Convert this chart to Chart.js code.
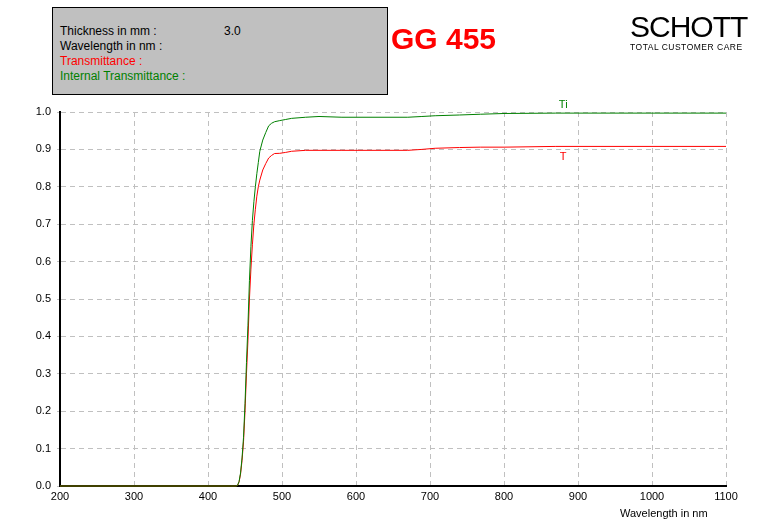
<!DOCTYPE html>
<html>
<head>
<meta charset="utf-8">
<script src="https://cdn.jsdelivr.net/npm/chart.js@4.4.1/dist/chart.umd.min.js"></script>
<style>
    body { margin: 0; background: #fff; }
    #wrap { position: relative; width: 774px; height: 525px; overflow: hidden; font-family: "Liberation Sans", Arial, sans-serif; }
    #chart { position: absolute; left: 0; top: 0; }
    #info { position: absolute; left: 52px; top: 7px; width: 334px; height: 86px; background: #c0c0c0; border: 1px solid #000; font-size: 12px; }
    #info .row { position: absolute; left: 7px; line-height: 15px; white-space: nowrap; }
    #title { position: absolute; left: 391px; top: 21px; color: #f00; font-weight: bold; font-size: 30px; line-height: 36px; }
    #logo { position: absolute; left: 630px; top: 10px; color: #000; font-size: 30px; line-height: 34px; letter-spacing: -1px; }
    #tagline { position: absolute; left: 630px; top: 42px; font-size: 8.5px; line-height: 10px; letter-spacing: 0.5px; }
    #xtitle { position: absolute; left: 620px; top: 506px; font-size: 11px; line-height: 14px; }
</style>
</head>
<body>
<div id="wrap">
    <canvas id="chart" width="774" height="525"></canvas>
    <div id="info">
        <div class="row" style="top:16px">Thickness in mm :</div>
        <div class="row" style="top:16px; left:171px">3.0</div>
        <div class="row" style="top:31px">Wavelength in nm :</div>
        <div class="row" style="top:46px; color:#f00">Transmittance :</div>
        <div class="row" style="top:61px; color:#008000">Internal Transmittance :</div>
    </div>
    <div id="title">GG 455</div>
    <div id="logo">SCHOTT</div>
    <div id="tagline">TOTAL CUSTOMER CARE</div>
    <div id="xtitle">Wavelength in nm</div>
</div>
<script>
const wavelengths = [200, 300, 400, 430, 438, 440, 442, 444, 446, 448, 450, 452, 454, 456, 458, 460, 462, 464, 466, 468, 470, 474, 478, 482, 486, 490, 497, 505, 513, 532, 550, 581, 670, 689, 707, 740, 768, 800, 870, 950, 1100];
const internalTransmittance = [0, 0, 0, 0, 0, 0.002, 0.012, 0.035, 0.075, 0.13, 0.22, 0.33, 0.43, 0.55, 0.64, 0.71, 0.76, 0.80, 0.835, 0.865, 0.895, 0.925, 0.945, 0.963, 0.97, 0.974, 0.977, 0.98, 0.983, 0.986, 0.988, 0.986, 0.986, 0.988, 0.99, 0.992, 0.994, 0.996, 0.997, 0.997, 0.997];
const transmittance = [0, 0, 0, 0, 0, 0.002, 0.011, 0.032, 0.068, 0.118, 0.2, 0.3, 0.39, 0.5, 0.58, 0.645, 0.7, 0.74, 0.775, 0.8, 0.818, 0.845, 0.862, 0.877, 0.884, 0.889, 0.8895, 0.892, 0.895, 0.8975, 0.8975, 0.8975, 0.8975, 0.9, 0.903, 0.905, 0.906, 0.906, 0.908, 0.908, 0.908];
const xTicks = [200, 300, 400, 500, 600, 700, 800, 900, 1000, 1100];
const yTicks = [0, 0.1, 0.2, 0.3, 0.4, 0.5, 0.6, 0.7, 0.8, 0.9, 1.0];

let tiPoints = wavelengths.map((w, i) => ({ x: w, y: internalTransmittance[i] }));
let tPoints = wavelengths.map((w, i) => ({ x: w, y: transmittance[i] }));

// Étiquettes "Ti" et "T" près des courbes
const curveLabels = {
    id: "curveLabels",
    afterDatasetsDraw(chart) {
        let ctx = chart.ctx;
        let xs = chart.scales.x, ys = chart.scales.y;
        ctx.save();
        ctx.font = "11px 'Liberation Sans', Arial, sans-serif";
        ctx.textAlign = "center";
        ctx.textBaseline = "middle";
        ctx.fillStyle = "#008000";
        ctx.fillText("Ti", xs.getPixelForValue(880), ys.getPixelForValue(1.019));
        ctx.fillStyle = "#f00";
        ctx.fillText("T", xs.getPixelForValue(880), ys.getPixelForValue(0.88));
        ctx.restore();
    }
};

let tickFont = { family: "'Liberation Sans', Arial, sans-serif", size: 11 };

new Chart(document.getElementById("chart"), {
    type: "line",
    data: {
        datasets: [
            { label: "Ti", data: tiPoints, borderColor: "#008000", borderWidth: 1, pointRadius: 0, tension: 0, clip: 3 },
            { label: "T", data: tPoints, borderColor: "#ff0000", borderWidth: 1, pointRadius: 0, tension: 0, clip: 3 }
        ]
    },
    options: {
        responsive: false,
        animation: false,
        events: [],
        layout: { padding: { top: 112, right: 48, bottom: 0, left: 0 } },
        plugins: { legend: { display: false }, tooltip: { enabled: false } },
        scales: {
            x: {
                type: "linear",
                min: 200,
                max: 1100,
                afterBuildTicks: s => { s.ticks = xTicks.map(v => ({ value: v })); },
                afterFit: s => { s.height = 39; },
                grid: { color: "#c0c0c0", drawTicks: false },
                border: { color: "#000", width: 2, dash: [5, 4] },
                ticks: { color: "#000", font: tickFont, padding: 4, maxRotation: 0, callback: v => String(v) }
            },
            y: {
                min: 0,
                max: 1,
                afterBuildTicks: s => { s.ticks = yTicks.map(v => ({ value: v })); },
                afterFit: s => { s.width = 60; },
                grid: { color: "#c0c0c0", tickLength: 3 },
                border: { color: "#000", width: 2, dash: [5, 4] },
                ticks: { color: "#000", font: tickFont, padding: 6, callback: v => v.toFixed(1) }
            }
        }
    },
    plugins: [curveLabels]
});
</script>
</body>
</html>
